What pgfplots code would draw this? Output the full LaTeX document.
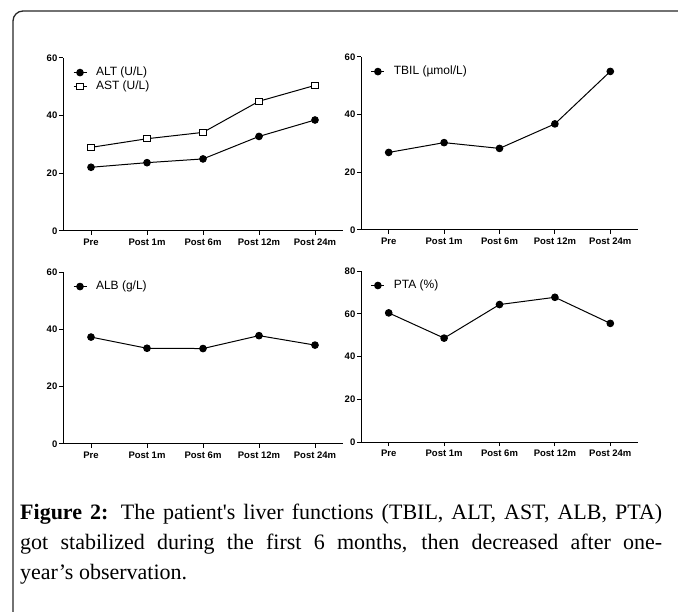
\documentclass[border=0pt]{standalone}
\usepackage{pgfplots}
\pgfplotsset{compat=1.18}
\usepackage{fontspec}
\setmainfont{Liberation Serif}
\newfontfamily\arial{Liberation Sans}

\pgfplotsset{
 panel/.style={
  scale only axis,
  xmin=-0.5, xmax=4.5, ymin=0,
  axis x line*=bottom, axis y line*=left,
  axis line style={line width=1pt, -},
  xtick={0,1,2,3,4},
  xticklabels={Pre, Post 1m, Post 6m, Post 12m, Post 24m},
  tick align=outside, major tick length=4pt,
  tick style={line width=1pt, black},
  /pgf/number format/assume math mode=true,
  ticklabel style={font=\arial\bfseries\fontsize{9.5}{11}\selectfont},
  yticklabel style={inner xsep=1.5pt},
  legend style={draw=none, fill=none, inner sep=0pt,
    at={(0.035,0.955)}, anchor=north west,
    font=\arial\fontsize{12}{14}\selectfont,
    row sep=1pt,
    nodes={inner sep=1pt, text height=8.6pt, text depth=2.6pt},
    /tikz/every odd column/.append style={column sep=8pt}},
  legend cell align=left,
  legend image code/.code={\draw[mark repeat=2,mark phase=2,##1] plot coordinates {(0pt,0pt) (6.5pt,0pt) (13pt,0pt)};},
  every axis plot/.append style={line width=1pt, black},
 },
 dot/.style={mark=*, mark size=3.3pt, mark options={fill=black, solid}},
 sq/.style={mark=square*, mark size=3.2pt, mark options={fill=white, solid, line width=1pt}},
}

\begin{document}
\begin{tikzpicture}
\path[use as bounding box] (0pt,0pt) rectangle (678pt,-612pt);
\draw[line width=1.3pt, black!85] (678pt,-11pt) -- (23pt,-11pt) arc[start angle=90,end angle=180,radius=10pt] -- (13pt,-612pt);

% Panel 1: ALT / AST
\begin{axis}[panel, at={(63pt,-231pt)}, anchor=south west, width=280pt, height=173pt,
  ymax=60, ytick={0,20,40,60}]
\addplot[dot] coordinates {(0,22.1) (1,23.7) (2,25.0) (3,32.8) (4,38.5)};
\addlegendentry{ALT (U/L)}
\addplot[sq] coordinates {(0,29.0) (1,32.0) (2,34.2) (3,45.0) (4,50.5)};
\addlegendentry{AST (U/L)}
\end{axis}

% Panel 2: TBIL
\begin{axis}[panel, at={(361pt,-230pt)}, anchor=south west, width=277pt, height=173pt,
  ymax=60, ytick={0,20,40,60}]
\addplot[dot] coordinates {(0,26.9) (1,30.3) (2,28.3) (3,36.8) (4,55.0)};
\addlegendentry{TBIL (µmol/L)}
\end{axis}

% Panel 3: ALB
\begin{axis}[panel, at={(63pt,-444pt)}, anchor=south west, width=280pt, height=172pt,
  ymax=60, ytick={0,20,40,60}]
\addplot[dot] coordinates {(0,37.3) (1,33.4) (2,33.3) (3,37.8) (4,34.5)};
\addlegendentry{ALB (g/L)}
\end{axis}

% Panel 4: PTA
\begin{axis}[panel, at={(361pt,-442pt)}, anchor=south west, width=277pt, height=171pt,
  ymax=80, ytick={0,20,40,60,80}]
\addplot[dot] coordinates {(0,60.4) (1,48.6) (2,64.3) (3,67.7) (4,55.5)};
\addlegendentry{PTA (\%)}
\end{axis}

\node[anchor=base west, inner sep=0pt, text width=642pt, align=justify,
  font=\fontsize{22}{30}\selectfont] at (20pt,-519pt)
 {\textbf{Figure 2:} The patient\textquotesingle s liver functions (TBIL, ALT, AST, ALB, PTA)\linebreak
 got stabilized during the first 6 months, then decreased after one-\linebreak
 year’s observation.};
\end{tikzpicture}
\end{document}
